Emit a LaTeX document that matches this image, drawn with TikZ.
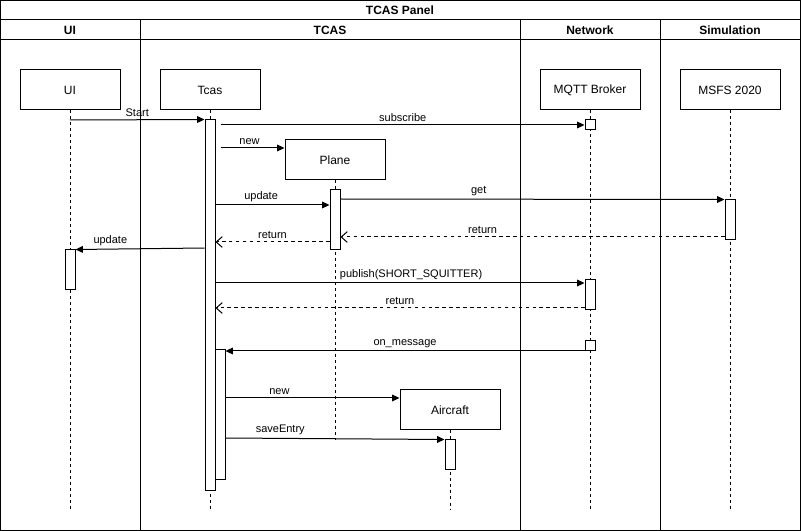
\documentclass[tikz,border=0pt]{standalone}
\usepackage{fontspec}
\setmainfont{Liberation Sans}
\usetikzlibrary{arrows.meta}
\begin{document}
\begin{tikzpicture}[x=0.75pt,y=-0.75pt, line width=0.75pt,
 box/.style={draw, fill=white, minimum width=75pt, minimum height=30pt, inner sep=0pt, font=\fontsize{9}{10}\selectfont},
 act/.style={draw, fill=white, minimum width=7.5pt, inner sep=0pt},
 life/.style={dash pattern=on 2.25pt off 2.25pt},
 msg/.style={-{Triangle[length=5.5pt,width=5pt]}},
 ret/.style={dash pattern=on 2.6pt off 2.6pt, -{Straight Barb[length=4.5pt,width=8pt]}},
 lbl/.style={font=\fontsize{8.25}{9}\selectfont, above, inner sep=2pt},
 head/.style={font=\bfseries\fontsize{9}{10}\selectfont}
]
\useasboundingbox (0,0) rectangle (801,531);
% frame and lanes
\draw (0.5,0.5) rectangle (800,530);
\draw (0,20) -- (800,20);
\draw (0,40) -- (800,40);
\draw (140,20) -- (140,530);
\draw (520,20) -- (520,530);
\draw (660,20) -- (660,530);
\node[head] (title) at (400,10) {TCAS Panel};
\node[head] (hui) at (70,30) {UI};
\node[head] (htcas) at (330,30) {TCAS};
\node[head] (hnet) at (590,30) {Network};
\node[head] (hsim) at (730,30) {Simulation};
% actors
\node[box] (ui) at (70,90) {UI};
\node[box] (tcas) at (210,90) {Tcas};
\node[box] (mqtt) at (590,90) {MQTT Broker};
\node[box] (msfs) at (730,90) {MSFS 2020};
\coordinate (uiend) at (70,510);
\coordinate (tcasend) at (210,510);
\coordinate (mqttend) at (590,510);
\coordinate (msfsend) at (730,510);
\draw[life] (ui.south) -- (uiend);
\draw[life] (tcas.south) -- (tcasend);
\draw[life] (mqtt.south) -- (mqttend);
\draw[life] (msfs.south) -- (msfsend);
% created objects
\node[box] (plane) at (335,160) {Plane};
\node[box] (aircraft) at (450,410) {Aircraft};
\coordinate (planeend) at (335,440);
\coordinate (aircraftend) at (450,510);
\draw[life] (plane.south) -- (planeend);
\draw[life] (aircraft.south) -- (aircraftend);
% activations
\node[act, minimum height=277.5pt] (tact) at (210,305) {};
\node[act, minimum height=97.5pt] (tact2) at (220,415) {};
\node[act, minimum height=7.5pt] (mq1) at (590,125) {};
\node[act, minimum height=45pt] (pact) at (335,220) {};
\node[act, minimum height=30pt] (sact) at (730,220) {};
\node[act, minimum height=30pt] (uact) at (70,270) {};
\node[act, minimum height=22.5pt] (mq2) at (590,295) {};
\node[act, minimum height=7.5pt] (mq3) at (590,346) {};
\node[act, minimum height=22.5pt] (aact) at (450,455) {};
% messages
\draw[msg] (ui.south |- 0,120) -- node[lbl, pos=0.5] {Start} (tact.north west);
\draw[msg] (221,125) -- node[lbl] {subscribe} (mq1.west);
\draw[msg] (221,148) -- node[lbl, pos=0.45] {new} (plane.west |- 0,148);
\draw[msg] (tact.east |- 0,205) -- node[lbl, pos=0.4] {update} (pact.west |- 0,205);
\draw[msg] (pact.east |- 0,199) -- node[lbl, pos=0.36] {get} (sact.north west);
\draw[ret] (sact.west |- 0,237) -- node[lbl, pos=0.63] {return} (pact.east |- 0,237);
\draw[ret] (pact.west |- 0,242) -- node[lbl, pos=0.5] {return} (tact.east |- 0,242);
\draw[msg] (tact.west |- 0,248) -- node[lbl, pos=0.73] {update} (uact.north east);
\draw[msg] (tact.east |- 0,283) -- node[lbl, pos=0.53] {publish(SHORT\_SQUITTER)} (mq2.west |- 0,283);
\draw[ret] (mq2.west |- 0,308) -- node[lbl, pos=0.5] {return} (tact.east |- 0,308);
\draw[msg] (mq3.west |- 0,351) -- node[lbl, pos=0.5] {on\_message} (tact2.east |- 0,351);
\draw[msg] (tact2.east |- 0,398) -- node[lbl, pos=0.31] {new} (aircraft.west |- 0,398);
\draw[msg] (tact2.east |- 0,438) -- node[lbl, pos=0.25] {saveEntry} (aact.north west);
\end{tikzpicture}
\end{document}
